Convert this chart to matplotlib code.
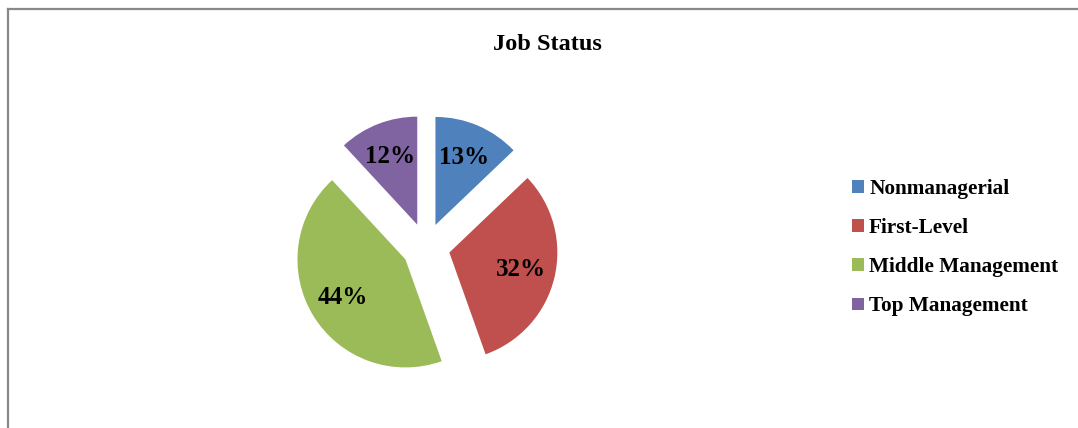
import matplotlib
matplotlib.use("Agg")
import matplotlib.pyplot as plt
from matplotlib.lines import Line2D

categories = ["Nonmanagerial", "First-Level", "Middle Management", "Top Management"]
shares = [13, 32, 44, 12]
colors = ["#4F81BD", "#C0504D", "#9BBB59", "#8064A2"]
title = "Job Status"

W, H = 1078, 428
fig = plt.figure(figsize=(W / 100, H / 100), dpi=100)
ax = fig.add_axes([0, 0, 1, 1])

serif = ["Liberation Serif", "DejaVu Serif"]

# explode offset is in data units (pixels here), not scaled by radius
wedges, texts, autotexts = ax.pie(
    shares,
    colors=colors,
    startangle=90,
    counterclock=False,
    explode=[24] * len(shares),
    radius=108,
    center=(426, H - 247),
    autopct=lambda p: f"{p:.0f}%",
    pctdistance=0.68,
    textprops=dict(fontfamily=serif, fontweight="bold", fontsize=18, color="black"),
    frame=True,
)
ax.set_xlim(0, W)
ax.set_ylim(0, H)
ax.set_aspect("equal")
ax.axis("off")

fig.text(547 / W, 1 - 45 / H, title, ha="center", va="center",
         fontfamily=serif, fontweight="bold", fontsize=17.5)

leg = fig.legend(wedges, categories, loc="upper left",
                 bbox_to_anchor=(833 / W, 1 - 160 / H),
                 frameon=False, handlelength=0.55, handleheight=0.55,
                 handletextpad=0.25, labelspacing=0.9,
                 prop=dict(family=serif, weight="bold", size=15.3))

# outer chart border (left and top edges)
fig.add_artist(Line2D([7.5 / W, 7.5 / W], [0, 1 - 8.5 / H], transform=fig.transFigure,
                      color="#888888", lw=1.6))
fig.add_artist(Line2D([7.5 / W, 1], [1 - 8.5 / H, 1 - 8.5 / H], transform=fig.transFigure,
                      color="#888888", lw=1.6))

fig.savefig("out.png", dpi=100)
